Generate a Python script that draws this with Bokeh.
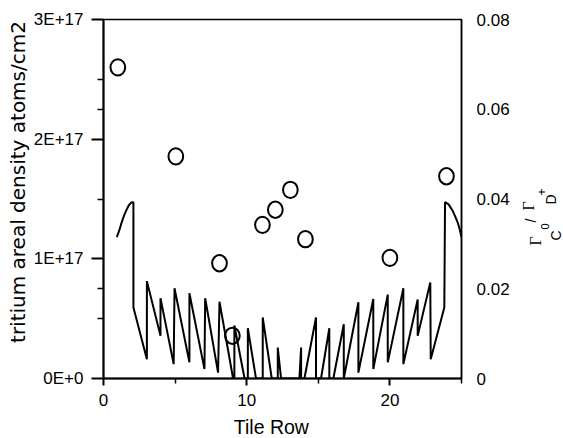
import math
from bokeh.plotting import figure
from bokeh.models import Range1d, LinearAxis, FixedTicker
from bokeh.layouts import row, column
from bokeh.core.properties import value
from bokeh.embed import file_html
from bokeh.resources import INLINE

# ---- data -------------------------------------------------------------
tile_row = [1.0, 5.05, 8.1, 9.0, 11.1, 12.0, 13.05, 14.1, 20.0, 23.95]
tritium = [2.60e17, 1.856e17, 0.963e17, 0.357e17, 1.284e17, 1.41e17,
           1.577e17, 1.164e17, 1.008e17, 1.69e17]

ratio_x = [0.93, 1.1, 1.24, 1.4, 1.58, 1.75, 1.93, 2.09, 2.09,
           3.03, 3.03, 3.98, 3.98, 4.9, 4.96, 6.0, 6.0, 7.05, 7.1,
           8.0, 8.1, 9.05, 9.14, 9.14, 9.85, 10.08, 10.08, 10.65, 11.12, 11.12,
           11.75, 12.17, 12.17, 12.4, 13.68, 13.8, 13.8, 14.03, 14.84, 14.84,
           15.19, 15.77, 15.77, 16.05, 16.78, 16.78, 17.8, 17.8, 18.84, 18.84,
           19.85, 19.85, 20.94, 20.94, 21.94, 21.94, 22.82, 22.85, 23.8, 23.85,
           24.1, 24.38, 24.55, 24.73, 24.87, 25.0]
ratio_y = [0.0315, 0.0330, 0.0345, 0.0360, 0.0374, 0.0385, 0.0392, 0.0393, 0.0158,
           0.0043, 0.0217, 0.0095, 0.0179, 0.0032, 0.0201, 0.0036, 0.0190, 0.0021, 0.0179,
           0.0013, 0.0171, 0.0, 0.0, 0.0118, 0.0, 0.0, 0.0112, 0.0, 0.0, 0.0136,
           0.0, 0.0, 0.0069, 0.0, 0.0, 0.0069, 0.0, 0.0, 0.0136, 0.0,
           0.0, 0.0112, 0.0, 0.0, 0.0121, 0.0, 0.0170, 0.0013, 0.0177, 0.0021,
           0.0187, 0.0036, 0.0201, 0.0032, 0.0176, 0.0095, 0.0214, 0.0043, 0.0158, 0.0393,
           0.0388, 0.0374, 0.0362, 0.0348, 0.0333, 0.0315]

left_ticks = [0, 1, 2, 3]
left_minor = [0.5, 0.75, 1.5, 2.25, 2.5]
left_labels = {0: "0E+0", 1: "1E+17", 2: "2E+17", 3: "3E+17"}
right_ticks = [0, 0.02, 0.04, 0.06, 0.08]
x_ticks = [0, 10, 20]
x_minor = [5, 15, 25]
SCALE = 1e17

x_title = "Tile Row"
y_title = "tritium areal density atoms/cm2"

# ---- layout -----------------------------------------------------------
TOTAL_W, TOTAL_H = 563, 438
LW, RW = 30, 45            # side strips for the rotated titles
MAIN_H = 416               # main figure height; strip below holds x title
BH = TOTAL_H - MAIN_H
MAIN_W = TOTAL_W - LW - RW
ML, MT = 72, 19
FRAME = 359
MR = MAIN_W - ML - FRAME
MB = MAIN_H - MT - FRAME
FB = MT + FRAME            # page y of the frame bottom (side strips share it)

FONT = "Liberation Sans"


def strip(w, y0, y1):
    f = figure(width=w, height=(MAIN_H if y1 - y0 == FRAME else BH),
               x_range=Range1d(0, w), y_range=Range1d(y0, y1),
               title=None, output_backend="svg", toolbar_location=None,
               x_axis_location=None, y_axis_location=None,
               min_border=0, min_border_left=0, min_border_right=0,
               min_border_top=0, min_border_bottom=0)
    f.xgrid.visible = False
    f.ygrid.visible = False
    f.outline_line_color = None
    f.background_fill_color = "white"
    f.border_fill_color = "white"
    return f


p = figure(width=MAIN_W, height=MAIN_H, x_range=Range1d(0, 25), y_range=Range1d(0, 3),
           title=None, output_backend="svg", toolbar_location=None,
           min_border_left=ML, min_border_right=MR,
           min_border_top=MT, min_border_bottom=MB)
p.xgrid.visible = False
p.ygrid.visible = False
p.outline_line_color = "black"
p.outline_line_width = 1.5
p.background_fill_color = "white"
p.border_fill_color = "white"

p.extra_y_ranges = {"ratio": Range1d(0, 0.08)}

# bottom axis
xa = p.xaxis[0]
xa.ticker = FixedTicker(ticks=x_ticks, minor_ticks=x_minor)
xa.axis_line_width = 2
xa.major_tick_out = 7
xa.major_tick_in = 0
xa.minor_tick_out = 5
xa.minor_tick_in = 0
xa.major_tick_line_width = 2
xa.minor_tick_line_width = 1.5
xa.major_label_standoff = 8
xa.major_label_text_font = FONT
xa.major_label_text_font_size = "17px"
xa.major_label_text_color = "black"

# left axis
ya = p.yaxis[0]
ya.ticker = FixedTicker(ticks=left_ticks, minor_ticks=left_minor)
ya.major_label_overrides = left_labels
ya.axis_line_width = 2
ya.major_tick_out = 12
ya.major_tick_in = 0
ya.minor_tick_out = 6
ya.minor_tick_in = 0
ya.major_tick_line_width = 2
ya.minor_tick_line_width = 1.5
ya.major_label_standoff = 8
ya.major_label_text_font = FONT
ya.major_label_text_font_size = "17px"
ya.major_label_text_color = "black"

# right axis
ra = LinearAxis(y_range_name="ratio",
                ticker=FixedTicker(ticks=right_ticks, minor_ticks=[]))
ra.major_label_overrides = {0: "0"}
ra.axis_line_width = 1.5
ra.major_tick_out = 0
ra.major_tick_in = 0
ra.minor_tick_out = 0
ra.minor_tick_in = 0
ra.major_label_standoff = 15
ra.major_label_text_font = FONT
ra.major_label_text_font_size = "17px"
ra.major_label_text_color = "black"
p.add_layout(ra, "right")

# data
p.line(ratio_x, ratio_y, y_range_name="ratio", line_color="black", line_width=2)
p.ellipse(x=tile_row, y=[t / SCALE for t in tritium],
          width=14.7, height=16.3, width_units="screen", height_units="screen",
          fill_color=None, line_color="black", line_width=2)

# ---- title strips: coordinates are page pixels (y counted upward from frame bottom)
left = strip(LW, 0, FRAME)
left.text(x=[17.8], y=[FB - 181.5], text=[y_title], angle=math.pi / 2,
          text_font=value("DejaVu Sans"), text_font_size=value("20px"),
          text_align="center", text_baseline="middle", text_color="black")

bottom = strip(TOTAL_W, 0, BH)
bottom.text(x=[233.3], y=[TOTAL_H - 426.3], text=[x_title],
            text_font=value(FONT), text_font_size=value("19.5px"),
            text_align="left", text_baseline="middle", text_color="black")

right = strip(RW, 0, FRAME)
RX0 = LW + MAIN_W
parts = [
    # text, column centre x, start y (bottom end), size, font
    ("\u0393", 534.5, 245, "16px", "Liberation Serif"),
    ("C", 555.0, 240, "14px", FONT),
    ("0", 544.0, 229, "11px", FONT),
    ("/", 530.5, 222, "14px", FONT),
    ("\u0393", 528.0, 210, "16px", "Liberation Serif"),
    ("D", 550.0, 204, "14px", FONT),
    ("+", 540.5, 195, "12px", FONT),
]
for txt, cx, sy, fs, fnt in parts:
    right.text(x=[cx - RX0], y=[FB - sy], text=[txt], angle=math.pi / 2,
               text_font=value(fnt), text_font_size=value(fs),
               text_align="left", text_baseline="middle", text_color="black")

layout = column(row(left, p, right), bottom)
open("out.html", "w").write(file_html(layout, INLINE))
